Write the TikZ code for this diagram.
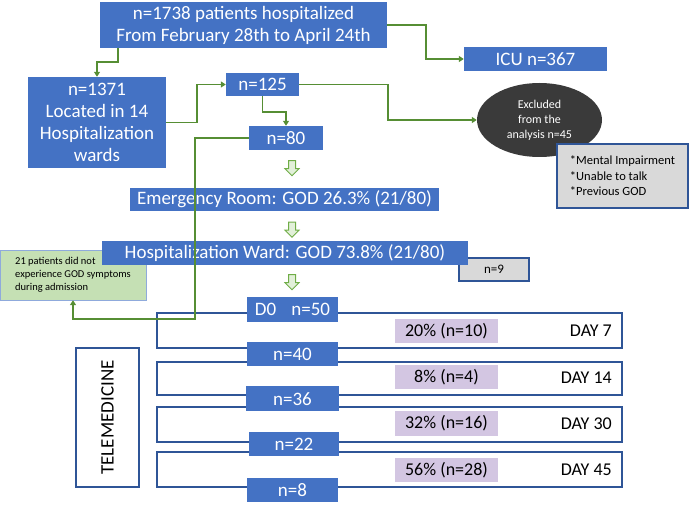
\documentclass[tikz,border=0pt]{standalone}
\usepackage{fontspec}
\setmainfont{Carlito}
\usetikzlibrary{arrows.meta,shapes.geometric,shapes.arrows}
\definecolor{ofblue}{HTML}{4472C4}
\definecolor{darkblue}{HTML}{2F5597}
\definecolor{linkgreen}{HTML}{568E34}
\definecolor{lightgreen}{HTML}{70AD47}
\definecolor{palegreen}{HTML}{E2F0D9}
\definecolor{notegreen}{HTML}{C5E0B4}
\definecolor{noteedge}{HTML}{8FAADC}
\definecolor{boxgray}{HTML}{D9D9D9}
\definecolor{lilac}{HTML}{D3C6E2}
\definecolor{darkgray}{HTML}{3A3A3A}
\tikzset{
    x = 1pt, y = -1pt,
    bluebox/.style = {fill=ofblue, text=white, align=center, inner sep=0pt,
        font=\fontsize{19}{22}\selectfont},
    link/.style = {draw=linkgreen, line width=1.5pt, -{Triangle[length=5pt,width=6pt]}},
    daybox/.style = {draw=darkblue, line width=1.6pt, inner sep=0pt,
        minimum width=465pt},
    graybox/.style = {fill=boxgray, draw=darkblue, line width=1.3pt, inner sep=0pt},
    pctbox/.style = {fill=lilac, inner sep=0pt, minimum width=103pt, minimum height=24pt,
        font=\fontsize{18}{20}\selectfont},
    daylabel/.style = {anchor=east, inner sep=0pt, font=\fontsize{18}{20}\selectfont},
    down/.style = {single arrow, draw=lightgreen, fill=palegreen, line width=1pt,
        shape border rotate=270, minimum height=15pt, minimum width=14pt,
        single arrow head extend=3.5pt, inner sep=3pt}
}
\begin{document}
\begin{tikzpicture}
    \useasboundingbox (0,0) rectangle (689,505);

    \node[bluebox, minimum width=287pt, minimum height=46pt] (top) at (243.5,25)
        {n=1738 patients hospitalized\\From February 28th to April 24th};
    \node[bluebox, minimum width=138pt, minimum height=91pt] (n1371) at (97,122.5)
        {n=1371\\Located in 14\\Hospitalization\\wards};
    \node[bluebox, minimum width=73pt, minimum height=23pt] (n125) at (262.5,84.5) {n=125};
    \node[bluebox, minimum width=74pt, minimum height=24pt] (n80) at (286,138) {n=80};
    \node[bluebox, minimum width=143pt, minimum height=24pt] (icu) at (535.5,59) {ICU n=367};
    \node[ellipse, fill=darkgray, text=white, minimum width=125pt, minimum height=74pt,
        inner sep=0pt, align=center, font=\fontsize{12}{15}\selectfont] (excl) at (539.5,120)
        {Excluded\\from the\\analysis n=45};
    \node[graybox, minimum width=131pt, minimum height=64pt, align=left,
        font=\fontsize{12.5}{15.5}\selectfont] (crit) at (622.5,176)
        {*Mental Impairment\\*Unable to talk\\*Previous GOD};

    \node[graybox, minimum width=70pt, minimum height=23pt,
        font=\fontsize{13}{15}\selectfont] (n9) at (494,269.5) {n=9};
    \node[fill=notegreen, draw=noteedge, minimum width=146pt, minimum height=50pt,
        inner sep=0pt, align=left, font=\fontsize{10.5}{13}\selectfont] (note) at (73,275)
        {21 patients did not\\experience GOD symptoms\\during admission};
    \node[bluebox, minimum width=309pt, minimum height=23pt] (er) at (284.5,199.5)
        {Emergency Room: GOD 26.3\% (21/80)};
    \node[bluebox, minimum width=366pt, minimum height=24pt] (ward) at (285,253.5)
        {Hospitalization Ward: GOD 73.8\% (21/80)};

    \node[down] (a1) at (292,166.5) {};
    \node[down] (a2) at (292,228) {};
    \node[down] (a3) at (292,280.5) {};

    \node[daybox, minimum height=35pt] (day7) at (389.5,330.5) {};
    \node[daybox, minimum height=33pt] (day14) at (389.5,378.5) {};
    \node[daybox, minimum height=35pt] (day30) at (389.5,424.5) {};
    \node[daybox, minimum height=35pt] (day45) at (389.5,469.5) {};

    \node[pctbox] (p7) at (446.5,331.5) {20\% (n=10)};
    \node[pctbox] (p14) at (446.5,377.5) {8\% (n=4)};
    \node[pctbox] (p30) at (446.5,423.5) {32\% (n=16)};
    \node[pctbox] (p45) at (446.5,470) {56\% (n=28)};
    \node[daylabel] (d7) at (612,331) {DAY 7};
    \node[daylabel] (d14) at (612,378) {DAY 14};
    \node[daylabel] (d30) at (612,424) {DAY 30};
    \node[daylabel] (d45) at (612,470) {DAY 45};

    \node[bluebox, minimum width=91pt, minimum height=25pt] (d0) at (292.5,309.5)
        {D0\hspace{0.8em}n=50};
    \node[bluebox, minimum width=91pt, minimum height=24pt] (n40) at (292.5,354) {n=40};
    \node[bluebox, minimum width=93pt, minimum height=25pt] (n36) at (292.5,399) {n=36};
    \node[bluebox, minimum width=90pt, minimum height=23pt] (n22) at (294,444) {n=22};
    \node[bluebox, minimum width=91pt, minimum height=24pt] (n8) at (292.5,490) {n=8};

    \node[draw=darkblue, line width=1.6pt, minimum width=63pt, minimum height=139pt,
        inner sep=0pt] (tele) at (107.5,417.5) {};
    \node[rotate=90, font=\fontsize{19}{22}\selectfont] (telelabel) at (tele) {TELEMEDICINE};

    \coordinate (bend) at (195,319);
    \draw[link] ([xshift=-125.5pt]top.south) -- ++(0,14) -| (n1371.north);
    \draw[link] (top.east) -- ++(39,0) |- (icu.west);
    \draw[link] (n1371.east) -- ++(31,0) |- (n125.west);
    \draw[link] (n125.east) -- ++(89,0) |- (excl.west);
    \draw[link] (n125.south) -- ++(0,16) -| (n80.north);
    \draw[link] (n80.west) -| (bend) -| (note.south);
\end{tikzpicture}
\end{document}
